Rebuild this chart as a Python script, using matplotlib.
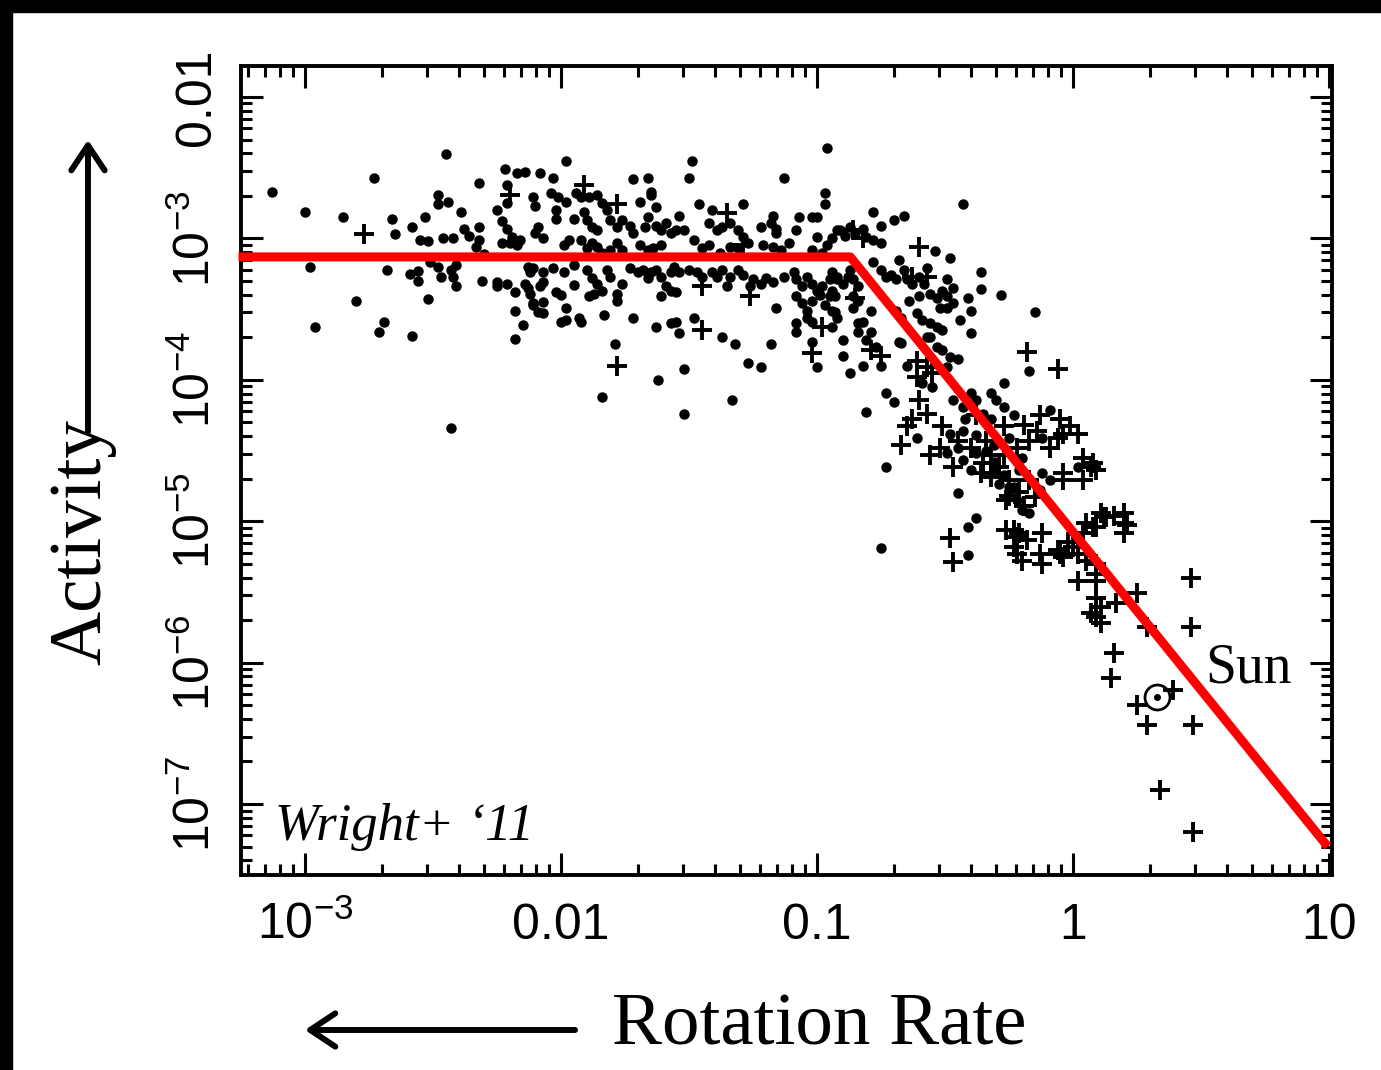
import numpy as np
import matplotlib.pyplot as plt
from matplotlib.patches import Rectangle, FancyArrowPatch
from matplotlib.ticker import LogLocator, NullFormatter

plt.rcParams['font.family'] = ['Liberation Sans', 'DejaVu Sans']
plt.rcParams['mathtext.fontset'] = 'custom'
plt.rcParams['mathtext.rm'] = 'Liberation Sans'

# log10(rotation rate), log10(activity) -- filled dots
dots = np.array([
    (-3.13, -2.67), (-3.00, -2.81), (-2.85, -2.85), (-2.73, -2.57), (-2.45, -2.40), (-2.66, -2.86),
    (-2.65, -2.97), (-2.58, -2.92), (-2.53, -2.85), (-2.55, -3.01), (-2.52, -3.02), (-2.48, -2.69),
    (-2.48, -2.76), (-2.44, -2.74), (-2.46, -3.00), (-2.42, -3.00), (-2.39, -2.81), (-2.38, -2.93),
    (-2.36, -2.98), (-2.32, -2.92), (-2.32, -3.01), (-2.33, -3.06), (-2.32, -2.61), (-2.30, -3.11),
    (-2.22, -2.51), (-2.17, -2.54), (-2.14, -2.53), (-2.21, -2.62), (-2.21, -2.75), (-2.25, -2.80),
    (-2.23, -2.88), (-2.21, -2.93), (-2.19, -2.99), (-2.16, -3.01), (-2.17, -3.05), (-2.20, -3.03),
    (-2.23, -3.03), (-2.11, -2.71), (-2.10, -2.77), (-2.09, -2.92), (-2.10, -2.96),
    (-2.98, -3.20), (-2.68, -3.22), (-2.59, -3.25), (-2.56, -3.23), (-2.56, -3.30), (-2.51, -3.17),
    (-2.48, -3.20), (-2.47, -3.27), (-2.43, -3.22), (-2.41, -3.19), (-2.42, -3.27), (-2.41, -3.34),
    (-2.31, -3.30), (-2.25, -3.31), (-2.25, -3.34), (-2.21, -3.32), (-2.14, -3.32), (-2.13, -3.35),
    (-2.13, -3.20), (-2.12, -3.24), (-2.18, -3.38), (-2.18, -3.51), (-2.15, -3.61), (-2.11, -3.47),
    (-2.09, -3.52), (-2.18, -3.71), (-2.80, -3.44), (-2.96, -3.63), (-2.69, -3.59), (-2.71, -3.66),
    (-2.58, -3.69), (-2.52, -3.43), (-2.43, -4.34),
    (-1.98, -2.45), (-2.08, -2.54), (-2.03, -2.57), (-1.49, -2.45), (-1.50, -2.57), (-1.72, -2.58),
    (-1.66, -2.57), (-0.96, -2.36), (-1.13, -2.57), (-1.65, -2.67), (-1.65, -2.69), (-2.04, -2.68),
    (-2.01, -2.71), (-1.98, -2.74), (-1.94, -2.68), (-1.92, -2.71), (-1.89, -2.71), (-1.86, -2.69),
    (-1.84, -2.75), (-1.69, -2.74), (-1.63, -2.78), (-1.46, -2.76), (-1.41, -2.80), (-1.29, -2.76),
    (-1.17, -2.84), (-1.07, -2.85), (-1.02, -2.85), (-1.00, -2.85), (-0.97, -2.68), (-0.97, -2.76),
    (-2.02, -2.80), (-2.02, -2.86), (-1.95, -2.86), (-1.91, -2.81), (-1.90, -2.87), (-1.88, -2.92),
    (-1.86, -2.94), (-1.82, -2.80), (-1.81, -2.87), (-1.78, -2.92), (-1.76, -2.87), (-1.73, -2.91),
    (-1.72, -2.96), (-1.66, -2.85), (-1.67, -2.92), (-1.63, -2.91), (-1.61, -2.94), (-1.59, -2.89),
    (-1.57, -2.96), (-1.55, -2.94), (-1.52, -2.94), (-1.54, -2.84), (-1.48, -3.01), (-1.42, -2.89),
    (-1.39, -2.94), (-1.37, -2.92), (-1.34, -2.89), (-1.31, -2.94), (-1.29, -2.99), (-1.27, -3.03),
    (-1.22, -2.92), (-1.18, -2.89), (-1.16, -2.93), (-1.16, -2.96), (-1.08, -2.94), (-1.00, -2.99),
    (-0.94, -3.00), (-0.91, -2.94), (-0.89, -2.98), (-2.07, -3.00), (-1.99, -3.05), (-1.97, -3.01),
    (-1.92, -3.01), (-1.90, -3.07), (-1.88, -3.03), (-1.86, -3.06), (-1.84, -3.10), (-1.81, -3.08),
    (-1.78, -3.03), (-1.76, -3.08), (-1.69, -3.05), (-1.66, -3.08), (-1.64, -3.07), (-1.61, -3.05),
    (-1.45, -3.07), (-1.42, -3.05), (-1.38, -3.10), (-1.34, -3.06), (-1.31, -3.07), (-1.21, -3.05),
    (-1.17, -3.06), (-1.14, -3.08), (-1.11, -3.03), (-1.02, -3.08), (-0.98, -3.10), (-0.96, -3.05),
    (-2.11, -3.21), (-2.07, -3.24), (-2.07, -3.31), (-2.08, -3.34), (-2.03, -3.21), (-1.99, -3.24),
    (-1.95, -3.19), (-1.90, -3.22), (-1.88, -3.28), (-1.86, -3.32), (-1.84, -3.37), (-1.87, -3.39),
    (-1.89, -3.41), (-1.82, -3.22), (-1.81, -3.27), (-1.76, -3.32), (-1.78, -3.39), (-1.78, -3.44),
    (-1.73, -3.21), (-1.70, -3.24), (-1.68, -3.22), (-1.66, -3.28), (-1.65, -3.24), (-1.63, -3.22),
    (-1.61, -3.27), (-1.59, -3.34), (-1.57, -3.37), (-1.55, -3.38), (-1.61, -3.41), (-1.57, -3.24),
    (-1.56, -3.20), (-1.54, -3.24), (-1.50, -3.22), (-1.47, -3.24), (-1.45, -3.27), (-1.41, -3.24),
    (-1.39, -3.27), (-1.37, -3.22), (-1.34, -3.27), (-1.35, -3.34), (-1.31, -3.22), (-1.29, -3.26),
    (-1.26, -3.34), (-1.25, -3.29), (-1.22, -3.32), (-1.20, -3.28), (-1.17, -3.31), (-1.13, -3.27),
    (-1.09, -3.24), (-1.08, -3.29), (-1.06, -3.34), (-1.04, -3.27), (-1.02, -3.32), (-1.00, -3.37),
    (-0.98, -3.34), (-0.95, -3.29), (-0.92, -3.27), (-0.90, -3.32), (-0.88, -3.27), (-1.08, -3.41),
    (-1.06, -3.46), (-1.04, -3.51), (-1.02, -3.44), (-0.99, -3.40), (-0.97, -3.47), (-0.95, -3.41),
    (-0.93, -3.52), (-1.04, -3.56), (-1.02, -3.59), (-1.08, -3.60), (-1.08, -3.66), (-1.02, -3.73),
    (-1.00, -3.91), (-0.90, -3.83), (-0.87, -3.95), (-0.90, -3.72), (-1.16, -3.49), (-2.12, -3.39),
    (-2.11, -3.46), (-2.07, -3.45), (-2.07, -3.53), (-2.02, -3.38), (-2.00, -3.40), (-1.98, -3.49),
    (-2.00, -3.59), (-1.98, -3.58), (-1.93, -3.56), (-1.92, -3.59), (-1.95, -3.33), (-1.83, -3.54),
    (-1.72, -3.56), (-1.63, -3.63), (-1.57, -3.60), (-1.55, -3.59), (-1.54, -3.67), (-1.48, -3.56),
    (-1.37, -3.70), (-1.32, -3.75), (-1.18, -3.75), (-1.27, -3.88), (-1.22, -3.91), (-1.79, -3.75),
    (-1.52, -3.92), (-1.62, -4.00), (-1.84, -4.12), (-1.33, -4.14), (-1.52, -4.24),
    (-0.43, -2.76), (-0.78, -2.81), (-0.70, -2.87), (-0.66, -2.84), (-0.75, -2.91), (-0.92, -2.94),
    (-0.87, -2.92), (-0.85, -2.96), (-0.82, -2.93), (-0.81, -2.99), (-0.78, -3.01), (-0.75, -3.03),
    (-0.54, -3.09), (-0.48, -3.14), (-0.36, -3.24), (-0.36, -3.36), (-0.28, -3.40), (-0.15, -3.52),
    (-0.17, -3.94), (-0.94, -3.24), (-0.92, -3.29), (-0.94, -3.37), (-0.93, -3.41), (-0.94, -3.51),
    (-0.92, -3.56), (-0.94, -3.63), (-0.87, -3.22), (-0.86, -3.29), (-0.84, -3.34), (-0.86, -3.41),
    (-0.84, -3.44), (-0.86, -3.49), (-0.79, -3.51), (-0.84, -3.60), (-0.82, -3.59), (-0.84, -3.66),
    (-0.79, -3.66), (-0.81, -3.72), (-0.77, -3.77), (-0.82, -3.90), (-0.75, -3.90), (-0.78, -3.17),
    (-0.75, -3.22), (-0.73, -3.27), (-0.71, -3.26), (-0.69, -3.29), (-0.68, -3.15), (-0.66, -3.22),
    (-0.65, -3.29), (-0.63, -3.32), (-0.60, -3.27), (-0.58, -3.32), (-0.57, -3.21), (-0.64, -3.44),
    (-0.60, -3.41), (-0.56, -3.39), (-0.53, -3.42), (-0.51, -3.37), (-0.49, -3.41), (-0.52, -3.49),
    (-0.49, -3.49), (-0.47, -3.46), (-0.49, -3.29), (-0.47, -3.35), (-0.41, -3.42), (-0.40, -3.51),
    (-0.44, -3.58), (-0.40, -3.67), (-0.69, -3.51), (-0.67, -3.56), (-0.61, -3.53), (-0.59, -3.58),
    (-0.56, -3.60), (-0.53, -3.63), (-0.51, -3.65), (-0.56, -3.70), (-0.68, -3.73), (-0.67, -3.74),
    (-0.57, -3.70), (-0.53, -3.77), (-0.51, -3.79), (-0.48, -3.84), (-0.45, -3.85), (-0.49, -3.91),
    (-0.65, -3.90), (-0.59, -4.02), (-0.55, -4.05), (-0.73, -4.09), (-0.70, -4.16), (-0.81, -4.23),
    (-0.61, -4.41), (-0.73, -4.62), (-0.47, -4.14), (-0.43, -4.19), (-0.40, -4.09), (-0.38, -4.14),
    (-0.35, -4.24), (-0.32, -4.09), (-0.30, -4.14), (-0.27, -4.19), (-0.27, -4.02),
    (-0.48, -4.38), (-0.43, -4.36), (-0.38, -4.52), (-0.43, -4.57), (-0.49, -4.52), (-0.40, -4.64),
    (-0.31, -4.64), (-0.25, -4.41), (-0.20, -4.55), (-0.12, -4.41), (0.02, -4.62), (-0.12, -4.66),
    (-0.34, -4.50), (-0.31, -4.58), (-0.27, -4.67), (-0.23, -4.76), (-0.29, -4.74), (-0.45, -4.48),
    (-0.22, -4.85), (-0.17, -4.94), (-0.13, -4.78), (-0.21, -4.64), (-0.38, -4.39), (-0.31, -4.46),
    (-0.42, -4.28), (-0.32, -4.28), (-0.23, -4.25), (-0.09, -4.21), (-0.09, -4.71), (-0.41, -5.24),
    (-0.41, -5.04), (-0.38, -4.98), (-0.45, -4.80), (-0.75, -5.19), (-0.25, -4.76), (-0.20, -4.92),
])

# plus-sign symbols
crosses = np.array([
    (-2.77, -2.97), (-2.20, -2.69), (-1.91, -2.62), (-1.78, -2.76), (-1.35, -2.82), (-1.45, -3.34),
    (-1.26, -3.41), (-0.98, -3.63), (-1.02, -3.81), (-1.45, -3.65), (-1.78, -3.90), (-1.29, -3.05),
    (-0.86, -2.94), (-0.82, -3.00), (-0.60, -3.06), (-0.18, -3.80), (-0.06, -3.92), (-0.85, -3.42),
    (-0.79, -3.79), (-0.75, -3.83), (-0.63, -3.27), (-0.57, -3.27), (-0.61, -3.87), (-0.57, -3.91),
    (-0.55, -3.95), (-0.61, -3.98), (-0.60, -4.14), (-0.57, -4.24), (-0.63, -4.28), (-0.65, -4.33),
    (-0.67, -4.46), (-0.56, -4.53), (-0.51, -4.33), (-0.45, -4.43), (-0.40, -4.48), (-0.35, -4.59),
    (-0.52, -4.48), (-0.47, -4.62), (-0.36, -4.66), (-0.27, -4.33), (-0.22, -4.48), (-0.17, -4.43),
    (-0.14, -4.36), (-0.09, -4.48), (-0.04, -4.38), (-0.01, -4.33), (0.02, -4.38), (-0.05, -4.28),
    (0.04, -4.55), (0.08, -4.59), (0.09, -4.64), (-0.04, -4.66), (-0.32, -4.53), (-0.29, -4.62),
    (-0.25, -4.71), (-0.21, -4.79), (-0.32, -4.69), (-0.25, -4.82), (-0.19, -4.89), (-0.15, -4.83),
    (-0.17, -4.71), (-0.34, -4.43), (-0.27, -4.53), (-0.38, -4.25), (-0.19, -4.32), (-0.13, -4.25),
    (-0.04, -4.71), (0.20, -4.94), (0.12, -4.97), (0.09, -5.04), (0.04, -5.08), (0.20, -5.01),
    (-0.02, -5.15), (-0.06, -5.20), (0.02, -5.23), (-0.13, -5.23), (-0.20, -5.28), (-0.12, -5.30),
    (-0.26, -5.06), (-0.22, -5.11), (-0.18, -5.13), (-0.23, -5.18), (-0.22, -5.23), (-0.48, -5.12),
    (-0.47, -5.29), (0.02, -5.42), (0.09, -5.42), (0.25, -5.51), (0.46, -5.40), (0.09, -5.54),
    (-0.06, -4.41), (0.07, -4.62), (0.04, -4.71), (-0.26, -4.85), (0.11, -4.94), (0.13, -4.97),
    (0.16, -4.96), (0.21, -5.03), (0.20, -5.08), (0.05, -5.01), (0.08, -5.04), (-0.05, -5.23),
    (0.00, -5.18), (-0.23, -5.06), (-0.21, -5.08), (-0.12, -5.08), (0.09, -5.37), (0.17, -5.58),
    (0.11, -5.61), (0.09, -5.68), (0.07, -5.65), (0.11, -5.72), (0.29, -5.75), (0.46, -5.75),
    (0.16, -5.93), (-0.04, -5.25), (0.05, -5.28), (0.09, -5.30), (0.15, -6.11), (0.39, -6.19),
    (0.25, -6.30), (0.29, -6.44), (0.47, -6.44), (0.34, -6.90), (0.47, -7.20),
])

sun_log = (0.33, -6.24)

# saturated / unsaturated fit (red broken line)
fit_rate = [5.5e-4, 0.135, 9.9]
fit_activity = [7.4e-4, 7.4e-4, 5.0e-8]

x_ticks = [1e-3, 1e-2, 0.1, 1, 10]
x_ticklabels = [r'$\mathregular{10^{-3}}$', '0.01', '0.1', '1', '10']
y_ticks = [1e-7, 1e-6, 1e-5, 1e-4, 1e-3, 1e-2]
y_ticklabels = [r'$\mathregular{10^{-7}}$', r'$\mathregular{10^{-6}}$', r'$\mathregular{10^{-5}}$',
                r'$\mathregular{10^{-4}}$', r'$\mathregular{10^{-3}}$', '0.01']

fig = plt.figure(figsize=(13.81, 10.70), dpi=100)
ax = fig.add_axes([0.1745, 0.1822, 0.790, 0.7561])

ax.plot(10 ** dots[:, 0], 10 ** dots[:, 1], 'o', color='black', ms=6.5, ls='none')
ax.plot(10 ** crosses[:, 0], 10 ** crosses[:, 1], '+', color='black', ms=15, mew=2.8, ls='none')
ax.plot(10 ** sun_log[0], 10 ** sun_log[1], 'o', mfc='none', mec='black', ms=18, mew=2)
ax.plot(10 ** sun_log[0], 10 ** sun_log[1], 'o', color='black', ms=4)

ax.plot(fit_rate, fit_activity, color='#ff0000', lw=6.5, solid_capstyle='butt', clip_on=False, zorder=5)

ax.set_xscale('log')
ax.set_yscale('log')
ax.set_xlim(10 ** -3.25, 10 ** 1.012)
ax.set_ylim(10 ** -7.502, 10 ** -1.781)

ax.set_xticks(x_ticks)
ax.set_xticklabels(x_ticklabels)
ax.set_yticks(y_ticks)
ax.set_yticklabels(y_ticklabels)
ax.xaxis.set_minor_locator(LogLocator(base=10, subs=np.arange(2, 10), numticks=50))
ax.yaxis.set_minor_locator(LogLocator(base=10, subs=np.arange(2, 10), numticks=50))
ax.xaxis.set_minor_formatter(NullFormatter())
ax.yaxis.set_minor_formatter(NullFormatter())

for s in ax.spines.values():
    s.set_linewidth(2.8)
ax.tick_params(which='both', direction='in', top=True, right=True, width=2.2, labelsize=36)
ax.tick_params(which='major', length=16)
ax.tick_params(which='minor', length=8)
ax.tick_params(axis='x', which='major', pad=46)
ax.tick_params(axis='y', which='major', pad=22)

for lbl in ax.get_xticklabels():
    lbl.set_verticalalignment('baseline')
for lbl in ax.get_yticklabels():
    lbl.set_rotation(90)
    lbl.set_rotation_mode('anchor')
    lbl.set_horizontalalignment('center')
    lbl.set_verticalalignment('baseline')

ax.text(3.28, 7.2e-7, 'Sun', family='Liberation Serif', fontsize=40, va='baseline', ha='left')
ax.text(0.031, 0.043, 'Wright+ \u201811', transform=ax.transAxes, family='Liberation Serif',
        style='italic', fontsize=38, va='baseline', ha='left')

# axis captions with arrows
fig.text(0.0724, 0.3785, 'Activity', family='Liberation Serif', fontsize=54, rotation=90,
         rotation_mode='anchor', ha='left', va='baseline')
fig.text(0.443, 0.0234, 'Rotation Rate', family='Liberation Serif', fontsize=54, ha='left', va='baseline')
fig.add_artist(FancyArrowPatch((0.0637, 0.5963), (0.0637, 0.8692), transform=fig.transFigure,
                               arrowstyle='->,head_length=0.3,head_width=0.2', mutation_scale=60,
                               lw=4.3, color='black', shrinkA=0, shrinkB=0))
fig.add_artist(FancyArrowPatch((0.4164, 0.0374), (0.2208, 0.0374), transform=fig.transFigure,
                               arrowstyle='->,head_length=0.3,head_width=0.2', mutation_scale=60,
                               lw=4.3, color='black', shrinkA=0, shrinkB=0))

# black frame bits at top and left of the slide
fig.patches.append(Rectangle((0, 1 - 12 / 1070), 1, 12 / 1070, transform=fig.transFigure, color='black'))
fig.patches.append(Rectangle((0, 0), 12 / 1381, 1, transform=fig.transFigure, color='black'))

fig.savefig('out.png', dpi=100)
